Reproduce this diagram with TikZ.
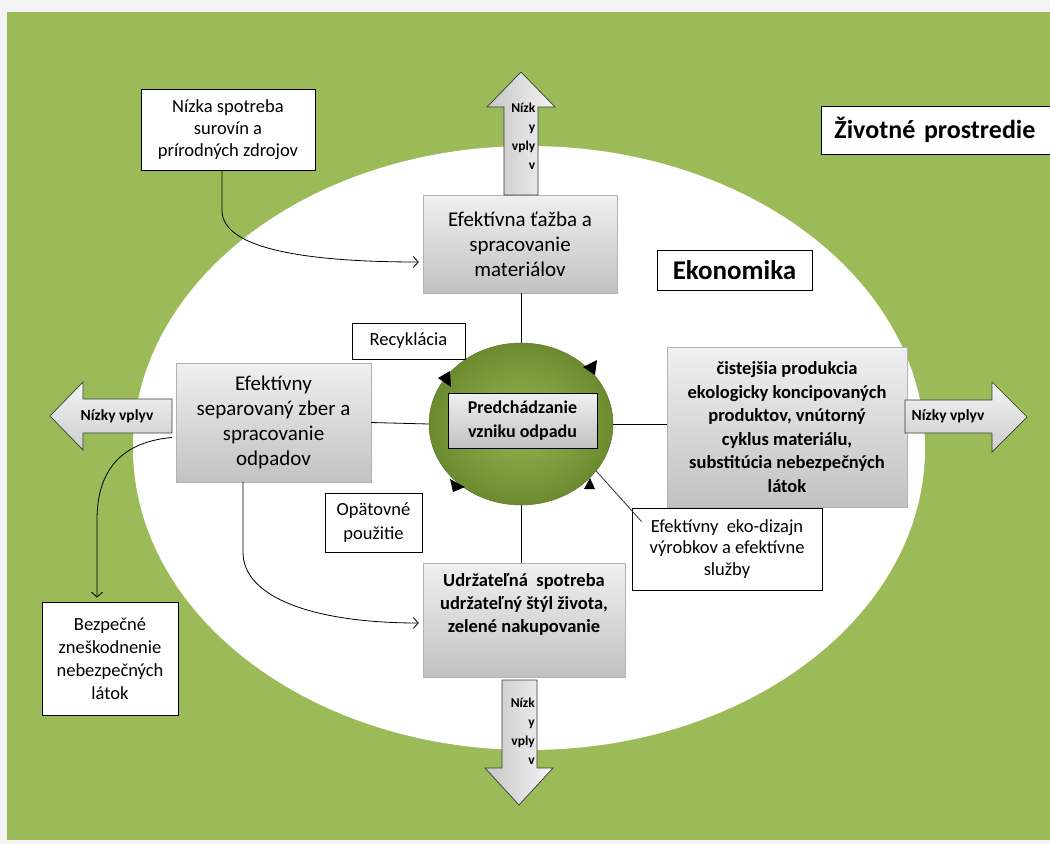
\documentclass[tikz,border=0pt]{standalone}
\usepackage{fontspec}
\setmainfont{Carlito}
\usetikzlibrary{shapes.geometric,arrows.meta}

\definecolor{zelena}{RGB}{155,187,89}
\definecolor{kruhsvetla}{RGB}{148,182,82}
\definecolor{kruhtmava}{RGB}{108,139,48}
\definecolor{okraj}{RGB}{243,243,243}

\begin{document}
\begin{tikzpicture}[x=1pt,y=-1pt,>={Straight Barb[length=5pt,width=11pt]},
	sivybox/.style={draw=gray!60, top color=gray!12, bottom color=gray!48, align=center, inner sep=3pt},
	bielybox/.style={draw=black, line width=0.8pt, fill=white, align=center, inner sep=3pt},
	sipka/.style={draw=gray!45!black, line width=0.7pt},
	sipkatext/.style={font=\fontsize{15.5}{19}\selectfont\bfseries, align=right, inner sep=0pt},
	sipkatextv/.style={sipkatext, font=\fontsize{13.5}{19}\selectfont\bfseries, anchor=north east},
	spoj/.style={line width=0.8pt}]

\useasboundingbox (0,0) rectangle (1050,844);
\fill[okraj] (0,0) rectangle (1050,844);
\fill[zelena] (7,12) rectangle (1050,840);
\fill[white] (529,448) ellipse [x radius=396, y radius=302];

% sedive bloky
\node[sivybox, minimum width=194pt, minimum height=98pt, font=\fontsize{21}{25}\selectfont] (tazba) at (520,244) {Efektívna ťažba a\\spracovanie\\materiálov};
\node[sivybox, minimum width=195pt, minimum height=119pt, font=\fontsize{21}{25}\selectfont] (zber) at (273.5,422.5) {Efektívny\\separovaný zber a\\spracovanie\\odpadov};
\node[sivybox, minimum width=240pt, minimum height=160pt, font=\fontsize{18.5}{23.5}\selectfont\bfseries] (cist) at (787,427) {čistejšia produkcia\\ekologicky koncipovaných\\produktov, vnútorný\\cyklus materiálu,\\substitúcia nebezpečných\\látok};
\node[sivybox, minimum width=202pt, minimum height=114pt, inner sep=0pt] (spotreba) at (524,620) {\parbox[t][106pt][t]{196pt}{\centering\fontsize{18.5}{23}\selectfont\bfseries\vspace{6pt}Udržateľná\ \ spotreba\\udržateľný štýl života,\\zelené nakupovanie}};

% stred
\node[ellipse, minimum width=184pt, minimum height=162pt, inner color=kruhsvetla, outer color=kruhtmava, draw=kruhtmava!85!black, line width=0.5pt] (kruh) at (521,424) {};
\node[sivybox, draw=black, line width=0.8pt, minimum width=149pt, minimum height=55pt, font=\fontsize{18}{24}\selectfont\bfseries] (pred) at (522.5,420.5) {Predchádzanie\\vzniku odpadu};

\fill (438,378)--(450,371)--(451,387)--cycle;
\fill (583,367)--(597,360)--(595,375)--cycle;
\fill (450,479)--(465,487)--(453,492)--cycle;
\fill (590,478)--(595,489)--(584,489)--cycle;

% biele stitky
\node[bielybox, minimum width=174pt, minimum height=81pt, font=\fontsize{18.5}{22}\selectfont] (nizka) at (228,129.5) {Nízka spotreba\\surovín a\\prírodných zdrojov};
\node[bielybox, minimum width=113pt, minimum height=36pt, font=\fontsize{18.5}{22}\selectfont] (recyk) at (408.5,341) {Recyklácia};
\node[bielybox, minimum width=97pt, minimum height=59pt, font=\fontsize{18.5}{24}\selectfont] (opat) at (373.5,522.5) {Opätovné\\použitie};
\node[bielybox, minimum width=190pt, minimum height=82pt, font=\fontsize{18.5}{21.5}\selectfont] (ekodiz) at (727,549) {Efektívny\ \ eko-dizajn\\výrobkov a efektívne\\služby};
\node[bielybox, minimum width=136pt, minimum height=113pt, font=\fontsize{18.5}{23}\selectfont] (bezp) at (110,658.5) {Bezpečné\\zneškodnenie\\nebezpečných\\látok};
\node[bielybox, minimum width=155pt, minimum height=40pt, font=\fontsize{27}{30}\selectfont\bfseries] (ekon) at (734.5,270) {Ekonomika};
\node[bielybox, anchor=west, minimum width=240pt, minimum height=48pt, text width=226pt, align=left, inner xsep=13pt, font=\fontsize{26}{30}\selectfont\bfseries] (zivot) at (821,130) {Životné prostredie};

% velke sipky
\path[sipka, left color=gray!45, right color=gray!8] (504,195) -- (504,107) -- (487,107) -- (521,72) -- (555,107) -- (538,107) -- (538,195) -- cycle;
\path[sipka, left color=gray!45, right color=gray!8] (502,680) -- (502,768) -- (485,768) -- (519,805) -- (553,768) -- (537,768) -- (537,680) -- cycle;
\path[sipka, top color=gray!8, bottom color=gray!40] (172,399) -- (83,399) -- (83,382) -- (50,416) -- (83,450) -- (83,433) -- (172,433) -- cycle;
\path[sipka, top color=gray!8, bottom color=gray!40] (905,400) -- (992,400) -- (992,382) -- (1027,417) -- (992,452) -- (992,433) -- (905,433) -- cycle;

\node[sipkatextv] (vplyvH) at (535.5,103) {Nízk\\y\\vply\\v};
\node[sipkatextv] (vplyvD) at (535,698) {Nízk\\y\\vply\\v};
\node[sipkatext] (vplyvL) at (117,416) {Nízky vplyv};
\node[sipkatext] (vplyvP) at (948,416) {Nízky vplyv};

% spojnice
\draw[spoj] (kruh.north |- tazba.south) -- (kruh.north);
\draw[spoj] (zber.east) -- (kruh.west);
\draw[spoj] (kruh.east) -- (kruh.east -| cist.west);
\draw[spoj] (kruh.south) -- (kruh.south |- spotreba.north);
\draw[spoj, gray!40!black] (kruh.-32) -- ([shift={(10pt,-14pt)}]ekodiz.north west);

\draw[spoj,->, shorten >=4pt] ([xshift=-6pt]nizka.south) -- ++(0,40) .. controls +(0,40) and +(-110,0) .. ([yshift=-18pt]tazba.west);
\draw[spoj,->, shorten >=4pt] ([xshift=-30.5pt]zber.south) -- ++(0,70) .. controls +(0,45) and +(-110,0) .. ([yshift=-3pt]spotreba.west);
\draw[spoj,->, shorten >=4pt] ([shift={(-4pt,-15pt)}]zber.west) .. controls +(-55,5) and +(0,-45) .. (97,520) -- ([xshift=-13pt]bezp.north);

\end{tikzpicture}
\end{document}
